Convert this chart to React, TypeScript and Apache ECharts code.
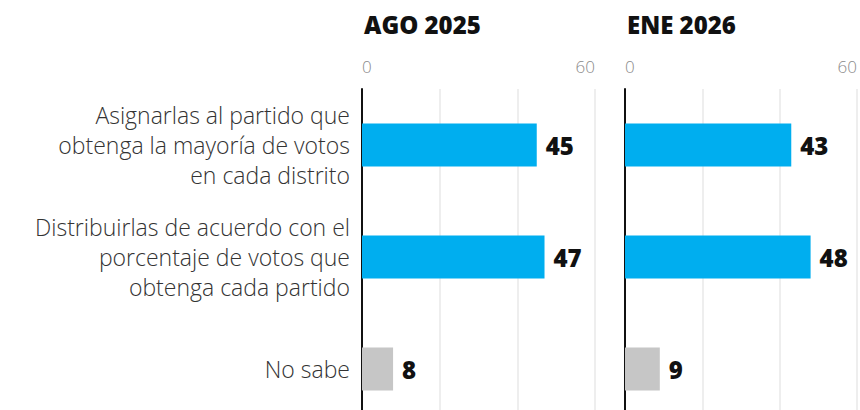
import React, { useEffect, useRef } from "react";
import * as echarts from "echarts";

const categories = [
  "Asignarlas al partido que\nobtenga la mayoría de votos\nen cada distrito",
  "Distribuirlas de acuerdo con el\nporcentaje de votos que\nobtenga cada partido",
  "No sabe",
];
const panelTitles = ["AGO 2025", "ENE 2026"];
const ago2025 = [45, 47, 8];
const ene2026 = [43, 48, 9];
const barColors = ["#00AEEF", "#00AEEF", "#C6C6C6"];
const axisMax = 60;
const tickStep = 20;

export default function App() {
  const ref = useRef<HTMLDivElement>(null);
  useEffect(() => {
    if (!ref.current) return;
    const chart = echarts.init(ref.current, undefined, { renderer: "svg" });
    const grids = [
      { left: 362, top: 89, width: 233, height: 336 },
      { left: 625, top: 89, width: 233, height: 336 },
    ];
    const mkX = (i: number) => ({
      type: "value" as const,
      gridIndex: i,
      position: "top" as const,
      min: 0,
      max: axisMax,
      interval: tickStep,
      axisLine: { show: false },
      axisTick: { show: false },
      splitLine: { show: true, lineStyle: { color: "#E8E8E8", width: 1.5 } },
      axisLabel: {
        show: true,
        margin: 14,
        color: "#8A8A8A",
        fontSize: 17,
        fontFamily: "Open Sans",
        fontWeight: 300,
        alignMinLabel: "left",
        alignMaxLabel: "right",
        formatter: (v: number) => (v === 0 || v === axisMax ? String(v) : ""),
      },
    });
    const mkY = (i: number) => ({
      type: "category" as const,
      gridIndex: i,
      data: categories,
      inverse: true,
      axisLine: { show: true, lineStyle: { color: "#111", width: 2 } },
      axisTick: { show: false },
      axisLabel: {
        show: i === 0,
        margin: 12,
        color: "#333",
        fontSize: 23,
        lineHeight: 30,
        fontFamily: "Open Sans",
        fontWeight: 300,
        align: "right" as const,
      },
    });
    const mkSeries = (i: number, data: number[]) => ({
      type: "bar" as const,
      xAxisIndex: i,
      yAxisIndex: i,
      barWidth: 43,
      data: data.map((v, k) => ({ value: v, itemStyle: { color: barColors[k] } })),
      label: {
        show: true,
        position: "right" as const,
        distance: 9,
        color: "#111",
        fontSize: 24,
        fontWeight: 800,
        fontFamily: "Open Sans",
      },
    });
    chart.setOption({
      animation: false,
      title: panelTitles.map((t, i) => ({
        text: t,
        left: grids[i].left - 3,
        top: 7,
        textStyle: { fontSize: 24, fontWeight: 800, color: "#111", fontFamily: "Open Sans" },
      })),
      grid: grids,
      xAxis: [mkX(0), mkX(1)],
      yAxis: [mkY(0), mkY(1)],
      series: [mkSeries(0, ago2025), mkSeries(1, ene2026)],
    });
    return () => chart.dispose();
  }, []);
  return (
    <div style={{ position: "fixed", left: 0, top: 0, width: 860, height: 410, overflow: "hidden", background: "#fff" }}>
      <div ref={ref} style={{ width: 860, height: 430 }} />
    </div>
  );
}
